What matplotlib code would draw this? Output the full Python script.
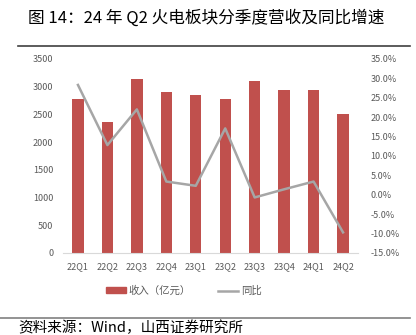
import matplotlib.pyplot as plt
from matplotlib.lines import Line2D
from matplotlib.patches import Patch

plt.rcParams['font.family'] = ['Noto Sans CJK SC', 'DejaVu Sans']

# data
quarters = ['22Q1', '22Q2', '22Q3', '22Q4', '23Q1', '23Q2', '23Q3', '23Q4', '24Q1', '24Q2']
revenue = [2778, 2363, 3134, 2899, 2845, 2773, 3110, 2948, 2935, 2515]
yoy = [28.3, 12.8, 22.0, 3.4, 2.3, 17.1, -0.7, 1.4, 3.4, -9.7]

left_ticks = [0, 500, 1000, 1500, 2000, 2500, 3000, 3500]
right_ticks = [-15, -10, -5, 0, 5, 10, 15, 20, 25, 30, 35]

bar_col = '#C0504D'
line_col = '#A6A6A6'
txt_col = '#595959'

fig = plt.figure(figsize=(4.16, 3.35), dpi=100)
ax = fig.add_axes([0.152, 0.245, 0.708, 0.579])

x = list(range(len(quarters)))
ax.bar(x, revenue, width=0.385, color=bar_col, zorder=2)
ax.set_xlim(-0.5, len(quarters) - 0.5)
ax.set_ylim(0, 3500)
ax.set_yticks(left_ticks)
ax.set_yticklabels([str(v) for v in left_ticks], fontsize=6.5, color=txt_col)
ax.set_xticks(x)
ax.set_xticklabels(quarters, fontsize=6.5, color=txt_col)
ax.tick_params(length=0, pad=7)
for s in ['top', 'right', 'left']:
    ax.spines[s].set_visible(False)
ax.spines['bottom'].set_color('#D9D9D9')
ax.spines['bottom'].set_linewidth(0.8)

ax2 = ax.twinx()
ax2.plot(x, yoy, color=line_col, lw=1.8, zorder=3)
ax2.set_ylim(-15, 35)
ax2.set_yticks(right_ticks)
ax2.set_yticklabels(['%.1f%%' % v for v in right_ticks], fontsize=6.5, color=txt_col)
ax2.tick_params(length=0, pad=9)
for s in ax2.spines.values():
    s.set_visible(False)

handles = [Patch(color=bar_col), Line2D([0], [0], color=line_col, lw=1.8)]
fig.legend(handles, ['收入（亿元）', '同比'], loc='center', bbox_to_anchor=(0.442, 0.132),
           ncol=2, frameon=False, fontsize=7.5, labelcolor=txt_col,
           handlelength=1.9, handleheight=0.55, columnspacing=2.6, handletextpad=0.3)

# title, rules and source
fig.text(0.495, 0.947, '图 14：24 年 Q2 火电板块分季度营收及同比增速', ha='center', va='center',
         fontsize=12, color='black')
fig.add_artist(Line2D([0.043, 0.986], [0.862, 0.862], color='#404040', lw=1.2))
fig.add_artist(Line2D([0.0, 0.986], [0.051, 0.051], color='#808080', lw=1.2))
fig.text(0.045, 0.022, '资料来源：Wind，山西证券研究所', ha='left', va='center',
         fontsize=10.5, color='black')

fig.savefig('out.png', dpi=100)
